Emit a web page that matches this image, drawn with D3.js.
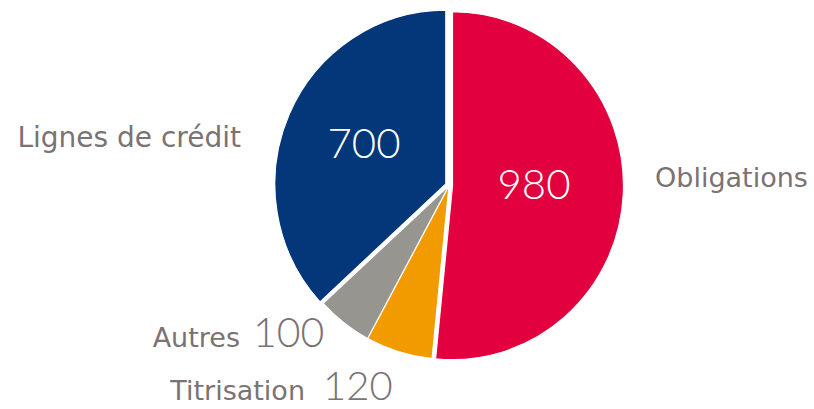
<!DOCTYPE html>
<html>
<head>
<meta charset="utf-8">
<script src="https://cdn.jsdelivr.net/npm/d3@7"></script>
<style>
  html, body { margin: 0; padding: 0; background: #ffffff; }
  svg { display: block; }
</style>
</head>
<body>
<svg id="chart" width="814" height="409"></svg>
<script>
// ---- data ----
const categories = ["Obligations", "Titrisation", "Autres", "Lignes de crédit"];
const values = [980, 120, 100, 700];
const colors = ["#E2003F", "#F29B00", "#969590", "#03377A"];
const explode = [3.5, 0, 0, 3.5];

// ---- layout ----
const W = 814, H = 409;
const cx = 449, cy = 185.5, r = 171, yScale = 174 / 171;
const textColor = "#7B7274";

const svg = d3.select("#chart");

const pie = d3.pie().sort(null).value(d => d).startAngle(0).endAngle(2 * Math.PI);
const arcs = pie(values);
const arc = d3.arc().innerRadius(0).outerRadius(r);

const g = svg.append("g")
  .attr("transform", `translate(${cx},${cy}) scale(1,${yScale})`);

g.selectAll("path.slice")
  .data(arcs)
  .join("path")
  .attr("class", "slice")
  .attr("d", arc)
  .attr("fill", (d, i) => colors[i])
  .attr("stroke", "#ffffff")
  .attr("stroke-width", 1.2)
  .attr("transform", (d, i) => {
    const mid = (d.startAngle + d.endAngle) / 2;
    const dx = explode[i] * Math.sin(mid);
    const dy = -explode[i] * Math.cos(mid);
    return `translate(${dx},${dy})`;
  });

// ---- labels ----
const labelFont = "'DejaVu Sans', Verdana, sans-serif";
const numFont = "Lato, 'Open Sans', sans-serif";

function label(txt, x, y, anchor, size) {
  svg.append("text")
    .attr("x", x).attr("y", y)
    .attr("text-anchor", anchor)
    .attr("font-family", labelFont)
    .attr("font-size", size)
    .attr("fill", textColor)
    .text(txt);
}
function num(txt, x, y, anchor, color, size) {
  svg.append("text")
    .attr("x", x).attr("y", y)
    .attr("text-anchor", anchor)
    .attr("font-family", numFont)
    .attr("font-weight", 300)
    .attr("font-size", size)
    .attr("fill", color)
    .text(txt);
}

// Outer category labels
label(categories[3], 241, 147, "end", 28);
label(categories[0], 655, 187, "start", 27);
label(categories[2], 240, 347, "end", 27);
label(categories[1], 305, 400, "end", 27);

// Values
num(values[3], 364, 158, "middle", "#ffffff", 42);
num(values[0], 534, 199, "middle", "#ffffff", 42);
num(values[2], 253, 347, "start", textColor, 41);
num(values[1], 323, 400, "start", textColor, 40);
</script>
</body>
</html>
